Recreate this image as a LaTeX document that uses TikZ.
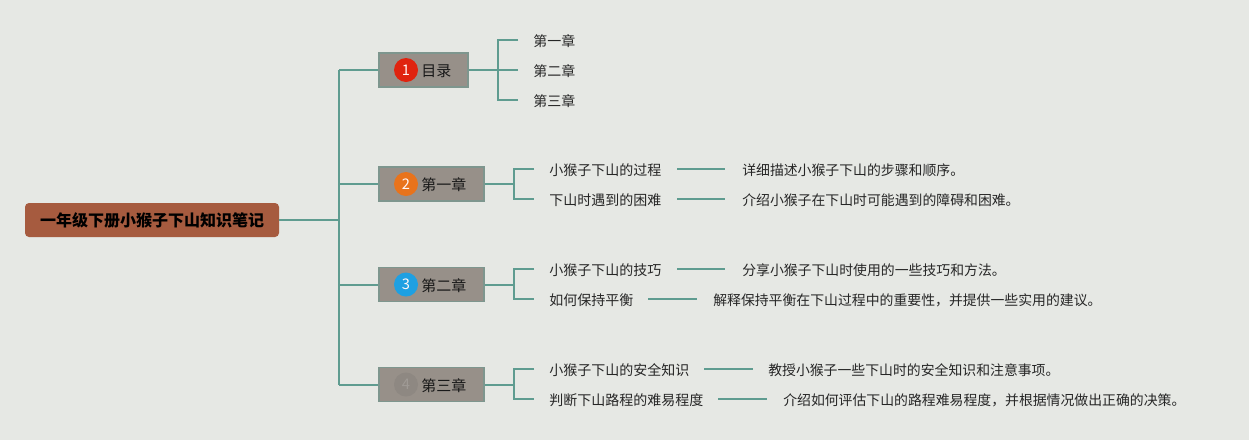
\documentclass[tikz,border=0pt]{standalone}
\usepackage{fontspec}
\setmainfont{Noto Sans CJK SC}
\definecolor{bg}{HTML}{E6E8E4}
\definecolor{ln}{HTML}{5F9C90}
\definecolor{boxf}{HTML}{979089}
\definecolor{boxd}{HTML}{7E968E}
\definecolor{rootf}{HTML}{A65B3F}
\definecolor{bred}{HTML}{E0230F}
\definecolor{borange}{HTML}{E8731C}
\definecolor{bblue}{HTML}{1EA0E2}
\definecolor{bgrey}{HTML}{8E8882}
\begin{document}
\begin{tikzpicture}[x=0.75pt,y=-0.75pt,
  conn/.style={draw=ln,line width=1.5pt},
  rootbox/.style={rectangle,rounded corners=3pt,fill=rootf,minimum width=190.5pt,minimum height=25.5pt,inner sep=0pt,font=\fontsize{12}{14}\selectfont\bfseries,text=black},
  chapbox/.style={rectangle,fill=boxf,draw=boxd,line width=0.8pt,minimum height=25.5pt,inner sep=0pt},
  badge/.style={circle,minimum size=18pt,inner sep=0pt,text=white!85!pink,font=\fontsize{11}{12}\selectfont},
  chaptext/.style={anchor=west,inner sep=0pt,font=\fontsize{11.25}{13}\selectfont,text=black!90},
  leaf/.style={anchor=west,inner sep=0pt,font=\fontsize{10.5}{12}\selectfont,text=black!85},
  desc/.style={anchor=west,inner sep=0pt,font=\fontsize{10.4}{12}\selectfont,text=black!85}]
\useasboundingbox[fill=bg] (0,0) rectangle (1249,440);

% root
\node[rootbox] (root) at (152,220) {一年级下册小猴子下山知识笔记};
\coordinate (tr) at (339,220);
\coordinate (t0) at (339,70);
\coordinate (t3) at (339,384.5);

% chapter boxes
\node[chapbox,minimum width=66.75pt] (b0) at (423.5,70) {};
\node[chapbox,minimum width=78.75pt] (b1) at (431.5,184) {};
\node[chapbox,minimum width=78.75pt] (b2) at (431.5,284.5) {};
\node[chapbox,minimum width=78.75pt] (b3) at (431.5,384.5) {};

\node[badge,fill=bred] (n0) at (406,70) {1};
\node[badge,fill=borange] (n1) at (406,184) {2};
\node[badge,fill=bblue] (n2) at (406,284.5) {3};
\node[badge,fill=bgrey,text=bgrey!85!white] (n3) at (406,384.5) {4};

\node[chaptext] (l0) at (421,71) {目录};
\node[chaptext] (l1) at (421,185) {第一章};
\node[chaptext] (l2) at (421,285.5) {第二章};
\node[chaptext] (l3) at (421,385.5) {第三章};

% trunk
\draw[conn] (root.east) -- (tr);
\draw[conn] (t0) -- (t3);
\draw[conn] (t0) -- (b0.west);
\draw[conn] (339,184) -- (b1.west);
\draw[conn] (339,284.5) -- (b2.west);
\draw[conn] (t3) -- (b3.west);

% 目录 children
\node[leaf] (m1) at (533,41) {第一章};
\node[leaf] (m2) at (533,71) {第二章};
\node[leaf] (m3) at (533,101) {第三章};
\coordinate (k0) at (498,70);
\draw[conn] (b0.east) -- (k0);
\draw[conn] (518,40) -- (498,40) -- (498,100) -- (518,100);
\draw[conn] (k0) -- (518,70);

% 第一章 children
\coordinate (k1) at (514,184);
\draw[conn] (b1.east) -- (k1);
\draw[conn] (534,169) -- (514,169) -- (514,199) -- (534,199);
\node[leaf] (c11) at (549,170) {小猴子下山的过程};
\node[leaf] (c12) at (549,200) {下山时遇到的困难};
\node[desc] (d11) at (742,170) {详细描述小猴子下山的步骤和顺序。};
\node[desc] (d12) at (742,200) {介绍小猴子在下山时可能遇到的障碍和困难。};
\draw[conn] (677,169) -- (725,169);
\draw[conn] (677,199) -- (725,199);

% 第二章 children
\coordinate (k2) at (514,284.5);
\draw[conn] (b2.east) -- (k2);
\draw[conn] (534,269) -- (514,269) -- (514,299) -- (534,299);
\node[leaf] (c21) at (549,270) {小猴子下山的技巧};
\node[leaf] (c22) at (549,300) {如何保持平衡};
\node[desc] (d21) at (742,270) {分享小猴子下山时使用的一些技巧和方法。};
\node[desc] (d22) at (713,300) {解释保持平衡在下山过程中的重要性，并提供一些实用的建议。};
\draw[conn] (677,269) -- (725,269);
\draw[conn] (648,299) -- (697,299);

% 第三章 children
\coordinate (k3) at (514,384.5);
\draw[conn] (b3.east) -- (k3);
\draw[conn] (534,369) -- (514,369) -- (514,399) -- (534,399);
\node[leaf] (c31) at (549,370) {小猴子下山的安全知识};
\node[leaf] (c32) at (549,400) {判断下山路程的难易程度};
\node[desc] (d31) at (768,370) {教授小猴子一些下山时的安全知识和注意事项。};
\node[desc] (d32) at (783,400) {介绍如何评估下山的路程难易程度，并根据情况做出正确的决策。};
\draw[conn] (704,369) -- (753,369);
\draw[conn] (718,399) -- (767,399);
\end{tikzpicture}
\end{document}
